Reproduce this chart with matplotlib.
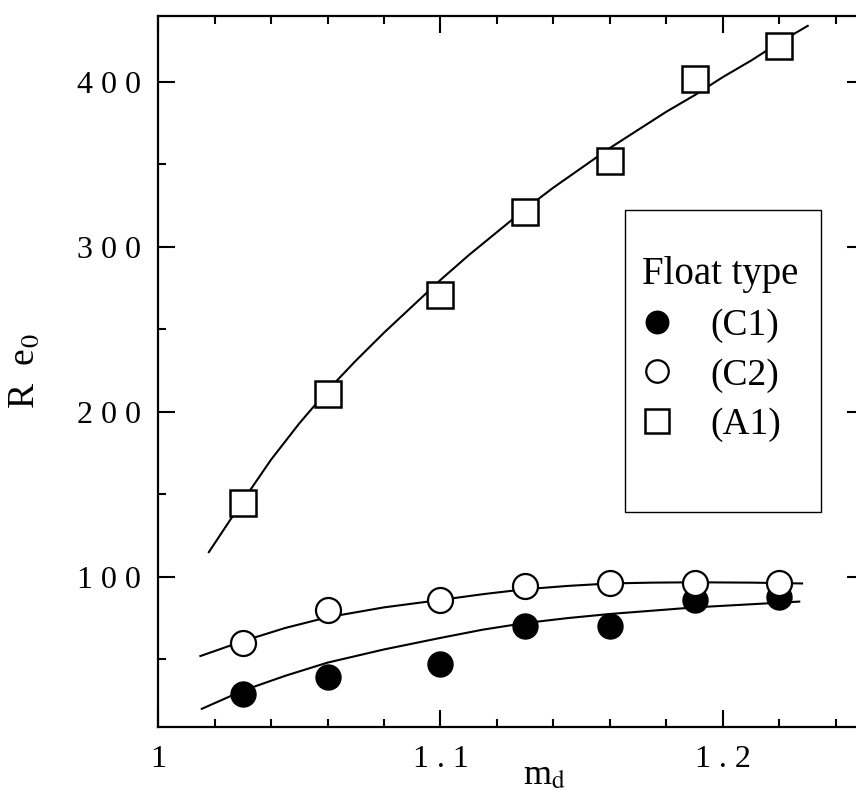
import matplotlib
matplotlib.use("Agg")
import matplotlib.pyplot as plt
import matplotlib.ticker as ticker
from matplotlib.patches import Rectangle

md = [1.03, 1.06, 1.10, 1.13, 1.16, 1.19, 1.22]
re_c1 = [29, 39, 47, 70, 70.5, 86, 88]
re_c2 = [60, 80, 86, 94.5, 96, 96, 96]
re_a1 = [145, 211, 271, 321, 352, 402, 422]

# drawn fit curves
fit_x_a1 = [1.018, 1.03, 1.04, 1.05, 1.06, 1.07, 1.08, 1.09, 1.10, 1.11, 1.12,
            1.13, 1.14, 1.15, 1.16, 1.17, 1.18, 1.19, 1.20, 1.21, 1.22, 1.23]
fit_y_a1 = [115, 146, 171, 193, 213, 231, 248, 264, 280, 295, 309,
            323, 336, 348, 360, 371, 382, 392, 403, 413, 424, 434]
fit_x_c2 = [1.015, 1.03, 1.045, 1.06, 1.08, 1.10, 1.115, 1.13, 1.145, 1.16,
            1.175, 1.19, 1.21, 1.228]
fit_y_c2 = [52, 61, 69, 75.5, 81.5, 86, 89.5, 92.5, 94.5, 96, 96.5, 96.7, 96.5, 96]
fit_x_c1 = [1.0155, 1.03, 1.045, 1.06, 1.08, 1.10, 1.115, 1.13, 1.145, 1.16,
            1.19, 1.227]
fit_y_c1 = [20, 31, 40, 48, 56, 63, 68, 72, 75, 77.5, 81.5, 85]

labels = ["(C1)", "(C2)", "(A1)"]

plt.rcParams['font.family'] = ['Liberation Serif', 'DejaVu Serif']
plt.rcParams['mathtext.fontset'] = 'stix'

fig = plt.figure(figsize=(8.56, 7.98), dpi=100)
ax = fig.add_axes([0.1846, 0.089, 0.825, 0.891])

# fit lines
for fx, fy in [(fit_x_a1, fit_y_a1), (fit_x_c2, fit_y_c2), (fit_x_c1, fit_y_c1)]:
    ax.plot(fx, fy, color="black", linewidth=1.5, zorder=2)

h1, = ax.plot(md, re_c1, linestyle="none", marker="o", markersize=18,
              markerfacecolor="black", markeredgecolor="black", zorder=3)
h2, = ax.plot(md, re_c2, linestyle="none", marker="o", markersize=18,
              markerfacecolor="white", markeredgecolor="black",
              markeredgewidth=1.6, zorder=4)
h3, = ax.plot(md, re_a1, linestyle="none", marker="s", markersize=19,
              markerfacecolor="white", markeredgecolor="black",
              markeredgewidth=1.8, zorder=4)

ax.set_xlim(1, 1.25)
ax.set_ylim(9, 440)

# axis ticks on all sides, pointing in
ax.xaxis.set_major_locator(ticker.FixedLocator([1.0, 1.1, 1.2]))
ax.xaxis.set_minor_locator(ticker.MultipleLocator(0.02))
ax.yaxis.set_major_locator(ticker.FixedLocator([100, 200, 300, 400]))
ax.yaxis.set_minor_locator(ticker.MultipleLocator(50))
spaced = ticker.FuncFormatter(lambda v, pos: " ".join(f"{v:g}"))
ax.xaxis.set_major_formatter(spaced)
ax.yaxis.set_major_formatter(spaced)

ax.tick_params(which="both", direction="in", top=True, right=True, width=1.5)
ax.tick_params(which="major", length=12, labelsize=23)
ax.tick_params(which="minor", length=6)
ax.tick_params(axis="y", which="major", pad=12)
ax.tick_params(axis="x", which="major", pad=13)
for s in ax.spines.values():
    s.set_linewidth(1.6)

ax.set_xlabel(r"m$_\mathrm{d}$", fontsize=26)
ax.xaxis.set_label_coords(0.548, -0.046)
ax.set_ylabel(r"R  e$_0$", fontsize=27)
ax.yaxis.set_label_coords(-0.165, 0.5)

# legend box
ax.add_patch(Rectangle((0.661, 0.302), 0.278, 0.425, transform=ax.transAxes,
                       facecolor="white", edgecolor="black", linewidth=1.0,
                       zorder=5))
leg = ax.legend([h1, h2, h3], labels, title="Float type", loc="upper left",
                bbox_to_anchor=(0.686, 0.662), frameon=False, fontsize=27,
                title_fontsize=28, borderpad=0, borderaxespad=0,
                handlelength=0.8, handletextpad=1.0, labelspacing=0.4,
                alignment="left", markerscale=0.9)
leg.set_zorder(6)

fig.savefig("out.png", dpi=100)
